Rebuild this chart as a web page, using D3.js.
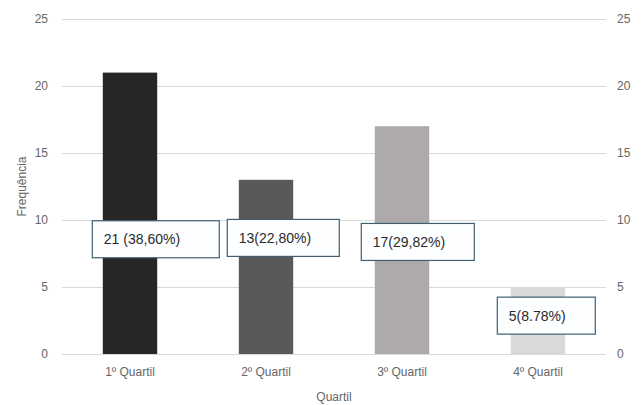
<!DOCTYPE html>
<html>
<head>
<meta charset="utf-8">
<script src="https://cdn.jsdelivr.net/npm/d3@7"></script>
<style>
  html, body { margin: 0; padding: 0; background: #fff; }
  svg { display: block; }
</style>
</head>
<body>
<svg id="chart" width="644" height="405"></svg>
<script>
// Frequency of observations per quartile
const categories = ["1º Quartil", "2º Quartil", "3º Quartil", "4º Quartil"];
const counts = [21, 13, 17, 5];
const labels = ["21 (38,60%)", "13(22,80%)", "17(29,82%)", "5(8.78%)"];
const barColors = ["#262626", "#595959", "#aeaaaa", "#d9d9d9"];
const yTicks = [0, 5, 10, 15, 20, 25];

// Callout box placement: x offset from bar left (px), vertical centre in data units, box width (px)
const calloutLayout = [
  { dx: -11, yv: 8.6, w: 127 },
  { dx: -12, yv: 8.7, w: 112 },
  { dx: -14, yv: 8.4, w: 113 },
  { dx: -14, yv: 2.9, w: 98 }
];

const svg = d3.select("#chart");
const margin = { left: 62, right: 38, top: 19, bottom: 51 };
const W = 644, H = 405;

const x = d3.scaleBand()
  .domain(categories)
  .range([margin.left, W - margin.right])
  .paddingInner(0.6)
  .paddingOuter(0.3);

const y = d3.scaleLinear()
  .domain([0, 25])
  .range([H - margin.bottom, margin.top]);

const font = "'Liberation Sans', Arial, sans-serif";
const textColor = "#666";

// Gridlines
svg.append("g")
  .selectAll("line")
  .data(yTicks)
  .join("line")
  .attr("x1", margin.left)
  .attr("x2", W - margin.right)
  .attr("y1", d => Math.round(y(d)) + 0.5)
  .attr("y2", d => Math.round(y(d)) + 0.5)
  .attr("stroke", "#d9d9d9")
  .attr("stroke-width", 1);

// Left axis
const leftAxis = svg.append("g")
  .attr("transform", `translate(${margin.left - 12},0)`)
  .call(d3.axisLeft(y).tickValues(yTicks).tickSize(0).tickPadding(2));
leftAxis.select(".domain").remove();
leftAxis.selectAll("text")
  .attr("font-family", font).attr("font-size", 12).attr("fill", textColor);

// Right axis
const rightAxis = svg.append("g")
  .attr("transform", `translate(${W - margin.right + 9},0)`)
  .call(d3.axisRight(y).tickValues(yTicks).tickSize(0).tickPadding(2));
rightAxis.select(".domain").remove();
rightAxis.selectAll("text")
  .attr("font-family", font).attr("font-size", 12).attr("fill", textColor);

// Bars
svg.append("g")
  .selectAll("rect")
  .data(categories)
  .join("rect")
  .attr("x", d => x(d))
  .attr("width", x.bandwidth())
  .attr("y", (d, i) => y(counts[i]))
  .attr("height", (d, i) => y(0) - y(counts[i]))
  .attr("fill", (d, i) => barColors[i]);

// Baseline
svg.append("line")
  .attr("x1", margin.left).attr("x2", W - margin.right)
  .attr("y1", Math.round(y(0)) + 0.5).attr("y2", Math.round(y(0)) + 0.5)
  .attr("stroke", "#d9d9d9");

// X axis category labels
const bottomAxis = svg.append("g")
  .attr("transform", `translate(0,${y(0) + 13})`)
  .call(d3.axisBottom(x).tickSize(0).tickPadding(0));
bottomAxis.select(".domain").remove();
bottomAxis.selectAll("text")
  .attr("font-family", font).attr("font-size", 12).attr("fill", textColor);

// Callout labels
const boxH = 37;
const callouts = svg.append("g")
  .selectAll("g")
  .data(categories)
  .join("g")
  .attr("transform", (d, i) => {
    const c = calloutLayout[i];
    return `translate(${x(d) + c.dx},${y(c.yv) - boxH / 2})`;
  });

callouts.append("rect")
  .attr("x", 0.5).attr("y", 0.5)
  .attr("width", (d, i) => calloutLayout[i].w)
  .attr("height", boxH)
  .attr("fill", "#fdfeff")
  .attr("stroke", "#3f5f72")
  .attr("stroke-width", 1.2);

callouts.append("text")
  .attr("x", 12)
  .attr("y", boxH / 2 + 5.5)
  .attr("font-family", font)
  .attr("font-size", 14)
  .attr("fill", "#2a2a2a")
  .text((d, i) => labels[i]);

// Axis titles
svg.append("text")
  .attr("transform", `translate(26,${(y(0) + y(25)) / 2})  rotate(-90)`)
  .attr("text-anchor", "middle")
  .attr("font-family", font).attr("font-size", 12).attr("fill", textColor)
  .text("Frequência");

svg.append("text")
  .attr("x", (margin.left + W - margin.right) / 2)
  .attr("y", 401)
  .attr("text-anchor", "middle")
  .attr("font-family", font).attr("font-size", 12).attr("fill", textColor)
  .text("Quartil");
</script>
</body>
</html>
